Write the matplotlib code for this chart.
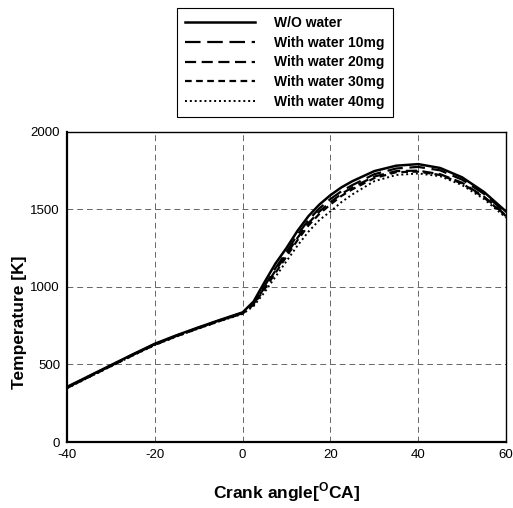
import matplotlib
matplotlib.use("Agg")
import matplotlib.pyplot as plt

plt.rcParams['font.family'] = ['Liberation Sans', 'DejaVu Sans']
plt.rcParams['mathtext.fontset'] = 'custom'
plt.rcParams['mathtext.rm'] = 'Liberation Sans:bold'
plt.rcParams['mathtext.bf'] = 'Liberation Sans:bold'
plt.rcParams['axes.unicode_minus'] = False

crank_angle = [-40, -35, -30, -25, -20, -15, -10, -5, 0, 2.5, 5, 7.5, 10, 12.5, 15,
               17.5, 20, 22.5, 25, 30, 35, 40, 45, 50, 55, 60]

t_wo = [355, 425, 495, 565, 633, 688, 739, 788, 835, 905, 1030, 1150, 1250, 1360, 1455,
        1530, 1590, 1640, 1680, 1745, 1780, 1790, 1765, 1705, 1610, 1485]
t_10 = [352, 423, 493, 563, 630, 686, 737, 786, 832, 895, 1005, 1120, 1225, 1335, 1430,
        1505, 1565, 1615, 1655, 1725, 1762, 1772, 1750, 1690, 1598, 1475]
t_20 = [350, 421, 491, 561, 628, 684, 735, 784, 830, 890, 995, 1105, 1210, 1315, 1410,
        1485, 1545, 1598, 1640, 1710, 1745, 1748, 1725, 1670, 1580, 1460]
t_30 = [348, 419, 489, 559, 626, 682, 733, 782, 828, 885, 985, 1090, 1195, 1300, 1395,
        1470, 1530, 1585, 1628, 1700, 1738, 1742, 1720, 1665, 1575, 1455]
t_40 = [346, 417, 487, 557, 624, 680, 731, 780, 825, 875, 965, 1065, 1165, 1265, 1355,
        1430, 1485, 1545, 1595, 1680, 1720, 1730, 1712, 1655, 1565, 1445]

labels = ['W/O water', 'With water 10mg', 'With water 20mg', 'With water 30mg', 'With water 40mg']
x_ticks = [-40, -20, 0, 20, 40, 60]
y_ticks = [0, 500, 1000, 1500, 2000]

fig = plt.figure(figsize=(5.13, 5.08), dpi=100)
ax = fig.add_axes([0.1306, 0.1299, 0.8558, 0.6112])

styles = [
    dict(linestyle='-', lw=1.8),
    dict(linestyle=(0, (7, 3)), lw=1.6),
    dict(linestyle=(0, (5, 2.5)), lw=1.6),
    dict(linestyle=(0, (3, 2)), lw=1.6),
    dict(linestyle=(0, (1, 1.5)), lw=1.4),
]
series = [t_wo, t_10, t_20, t_30, t_40]
for s, lab, st in zip(series, labels, styles):
    ax.plot(crank_angle, s, color='black', label=lab, **st)

ax.set_xlim(-40, 60)
ax.set_ylim(0, 2000)
ax.set_xticks(x_ticks)
ax.set_yticks(y_ticks)
ax.tick_params(axis='both', length=0, labelsize=9.5, pad=5)
ax.grid(True, color='#666666', linestyle=(0, (6, 4)), lw=0.7)

for side in ['left', 'bottom']:
    ax.spines[side].set_linewidth(1.6)
for side in ['top', 'right']:
    ax.spines[side].set_linewidth(1.0)

ax.set_xlabel(r'Crank angle[$^{\mathbf{O}}$CA]', fontsize=12.5, fontweight='bold', labelpad=14)
ax.set_ylabel('Temperature [K]', fontsize=12.5, fontweight='bold')
ax.yaxis.set_label_coords(-0.092, 0.386)

leg = fig.legend(loc='upper center', bbox_to_anchor=(285 / 513, 1 - 8 / 508),
                 borderaxespad=0,
                 fancybox=False, edgecolor='black', framealpha=1,
                 prop={'weight': 'bold', 'size': 10}, handlelength=5.0,
                 labelspacing=0.4, borderpad=0.6, handletextpad=1.4)
leg.get_frame().set_linewidth(0.8)

fig.savefig('out.png', dpi=100)
